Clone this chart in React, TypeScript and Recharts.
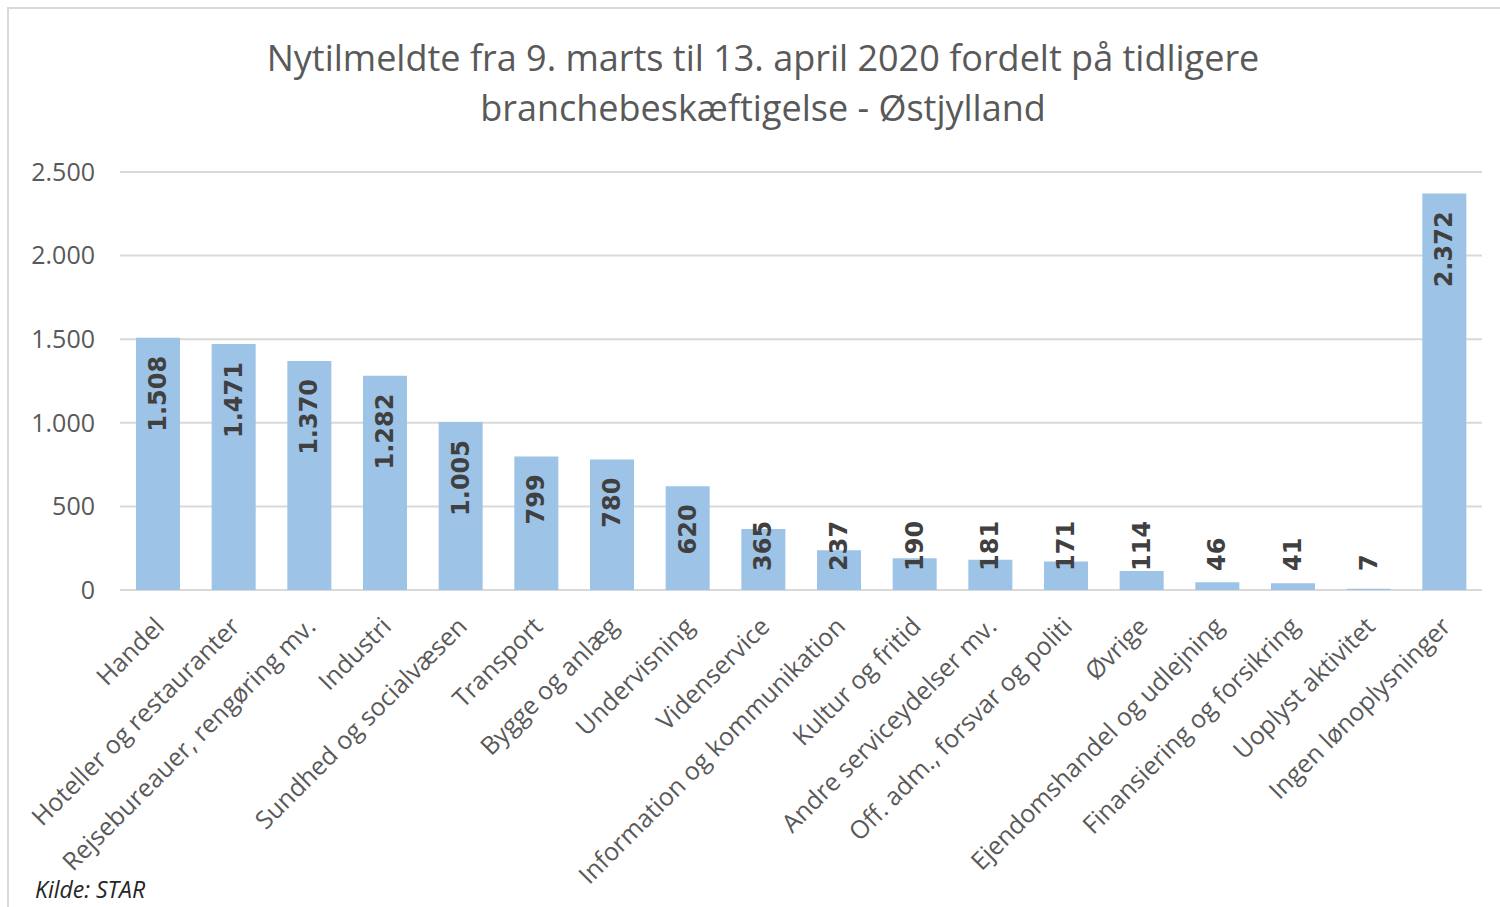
import { Bar, BarChart, CartesianGrid, LabelList, XAxis, YAxis } from "recharts";

const categories = [
  "Handel",
  "Hoteller og restauranter",
  "Rejsebureauer, rengøring mv.",
  "Industri",
  "Sundhed og socialvæsen",
  "Transport",
  "Bygge og anlæg",
  "Undervisning",
  "Videnservice",
  "Information og kommunikation",
  "Kultur og fritid",
  "Andre serviceydelser mv.",
  "Off. adm., forsvar og politi",
  "Øvrige",
  "Ejendomshandel og udlejning",
  "Finansiering og forsikring",
  "Uoplyst aktivitet",
  "Ingen lønoplysninger",
];

const values = [1508, 1471, 1370, 1282, 1005, 799, 780, 620, 365, 237, 190, 181, 171, 114, 46, 41, 7, 2372];

const yTicks = [0, 500, 1000, 1500, 2000, 2500];

const data = categories.map((name, i) => ({ name, value: values[i] }));

const fmt = (v: number) => String(v).replace(/\B(?=(\d{3})+(?!\d))/g, ".");

const gray = "#595959";
const font = "'Open Sans', sans-serif";

function CategoryTick(props: any) {
  const { x, y, payload } = props;
  const tx = x + 8;
  const ty = y + 30;
  return (
    <text
      x={tx}
      y={ty}
      transform={`rotate(-45 ${tx} ${ty})`}
      textAnchor="end"
      fill={gray}
      fontSize={25}
      fontFamily={font}
    >
      {payload.value}
    </text>
  );
}

function ValueLabel(props: any) {
  const { x, y, width, height, value } = props;
  const text = fmt(value);
  const cx = x + width / 2;
  const base = y + height;
  const est = text.length * 15.5;
  const top = y + 18;
  const clamp = top + est > base - 20;
  const ty = clamp ? base - 19 : top;
  return (
    <text
      x={cx}
      y={ty}
      transform={`rotate(-90 ${cx} ${ty})`}
      textAnchor={clamp ? "start" : "end"}
      dominantBaseline="central"
      fill="#404040"
      fontSize={24}
      fontWeight="bold"
      fontFamily="'DejaVu Sans', sans-serif"
    >
      {text}
    </text>
  );
}

export default function App() {
  return (
    <div style={{ position: "absolute", left: 0, top: 0, width: 1500, height: 907, background: "#fff", overflow: "hidden" }}>
      <div
        style={{
          position: "absolute",
          left: 7,
          top: 7,
          width: 1520,
          height: 940,
          border: "2px solid #d9d9d9",
        }}
      />
      <div
        style={{
          position: "absolute",
          left: 163,
          top: 33,
          width: 1200,
          textAlign: "center",
          color: gray,
          fontFamily: font,
          fontSize: 36,
          lineHeight: "50px",
        }}
      >
        Nytilmeldte fra 9. marts til 13. april 2020 fordelt på tidligere
        <br />
        branchebeskæftigelse - Østjylland
      </div>
      <div style={{ position: "absolute", top: 0, left: 0 }}>
        <BarChart
          width={1500}
          height={907}
          data={data}
          margin={{ top: 172, right: 18, bottom: 17, left: 20 }}
          barSize={44}
        >
          <CartesianGrid vertical={false} stroke="#d9d9d9" strokeWidth={2} />
          <XAxis
            dataKey="name"
            interval={0}
            height={300}
            axisLine={false}
            tickLine={false}
            tick={<CategoryTick />}
          />
          <YAxis
            width={100}
            domain={[0, 2500]}
            ticks={yTicks}
            tickFormatter={fmt}
            axisLine={false}
            tickLine={false}
            tickMargin={19}
            tick={{ fill: gray, fontSize: 25, fontFamily: font }}
          />
          <Bar dataKey="value" fill="#9dc3e6" isAnimationActive={false}>
            <LabelList dataKey="value" content={<ValueLabel />} />
          </Bar>
        </BarChart>
      </div>
      <div
        style={{
          position: "absolute",
          left: 35,
          top: 874,
          fontFamily: font,
          fontStyle: "italic",
          fontSize: 23,
          color: "#262626",
          lineHeight: "30px",
        }}
      >
        Kilde: STAR
      </div>
    </div>
  );
}
